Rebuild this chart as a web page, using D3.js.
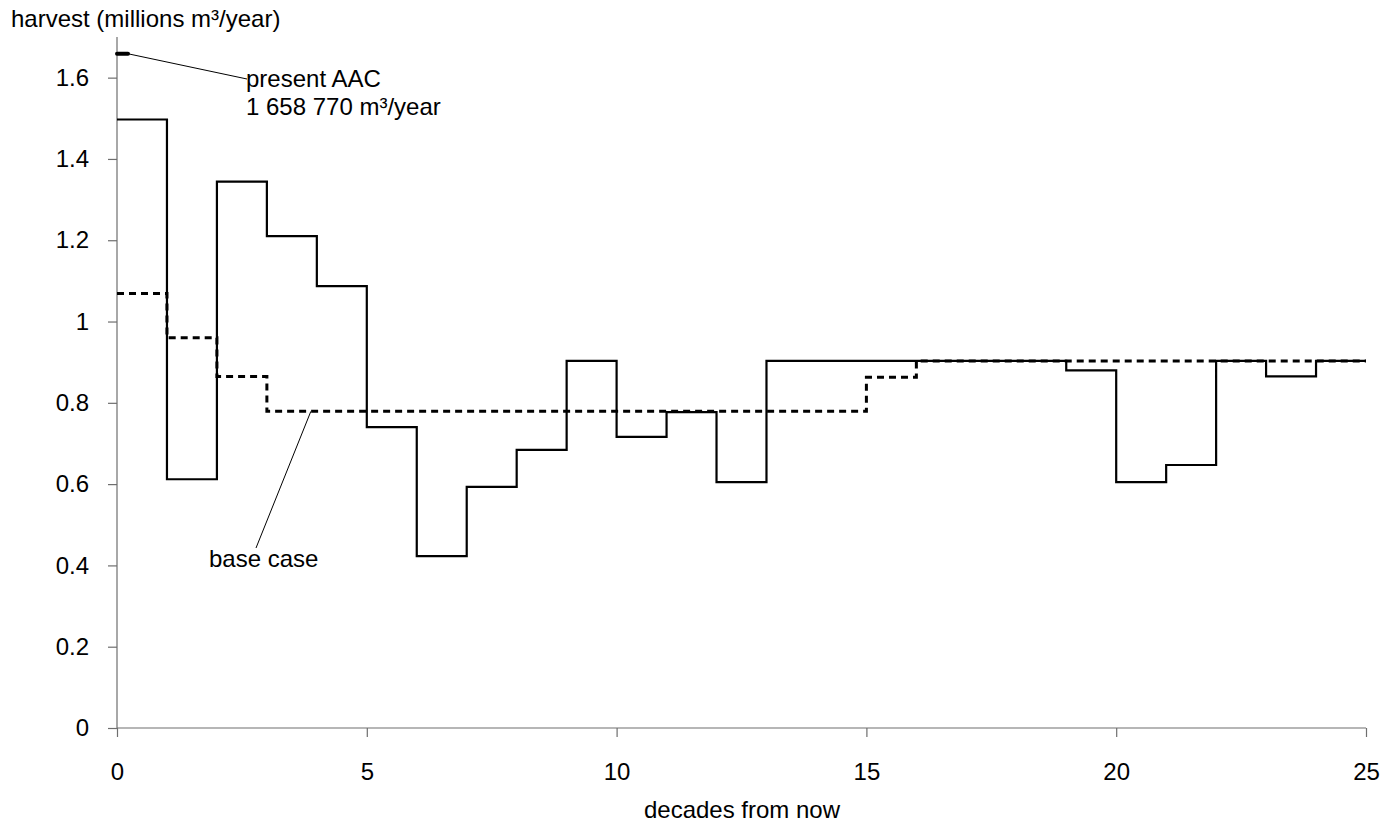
<!DOCTYPE html>
<html><head><meta charset="utf-8">
<script src="https://cdn.jsdelivr.net/npm/d3@7"></script>
<style>body{margin:0;background:#fff}svg{display:block}text{font-family:"Liberation Sans",Arial,sans-serif;fill:#000}</style>
</head><body><svg id="c" width="1395" height="824"></svg>
<script>
const decades = d3.range(0, 25);
const harvest = [1.497,0.612,1.344,1.21,1.087,0.74,0.423,0.593,0.684,0.903,0.716,0.777,0.605,0.903,0.903,0.903,0.903,0.903,0.903,0.88,0.605,0.647,0.903,0.865,0.903];
const baseCase = [1.069,0.96,0.865,0.779,0.779,0.779,0.779,0.779,0.779,0.779,0.779,0.779,0.779,0.779,0.779,0.863,0.903,0.903,0.903,0.903,0.903,0.903,0.903,0.903,0.903];
const xTicks = [0,5,10,15,20,25];
const yTicks = [0,0.2,0.4,0.6,0.8,1,1.2,1.4,1.6];
const presentAAC = 1.65877;

const FS = 24;
const svg = d3.select("#c");
const x = d3.scaleLinear().domain([0,25]).range([117,1366]);
const y = d3.scaleLinear().domain([0,1.7]).range([728,37]);
const axisColor = "#6e6e6e";

// axes
const xa = svg.append("g").attr("transform","translate(0,728)")
  .call(d3.axisBottom(x).tickValues(xTicks).tickSize(9).tickPadding(26).tickFormat(d3.format("d")));
const ya = svg.append("g").attr("transform","translate(117,0)")
  .call(d3.axisLeft(y).tickValues(yTicks).tickSize(9).tickPadding(19).tickFormat(d=>String(d)));
[xa,ya].forEach(a=>{
  a.selectAll("path.domain").attr("stroke",axisColor).attr("stroke-width",1.2);
  a.selectAll(".tick line").attr("stroke",axisColor).attr("stroke-width",1.2);
  a.selectAll("text").attr("font-size",FS).attr("font-family","Liberation Sans, Arial, sans-serif").attr("fill","#000");
});
ya.select("path.domain").attr("d",`M0,${y(1.7)}V${y(0)}`);
xa.select("path.domain").attr("d",`M${x(0)},0H${x(25)}`);

const step = (vals)=> decades.map((d,i)=>[d,vals[i]]).concat([[25,vals[vals.length-1]]]);
const line = d3.line().x(d=>x(d[0])).y(d=>y(d[1])).curve(d3.curveStepAfter);

svg.append("path").attr("d",line(step(baseCase))).attr("fill","none")
  .attr("stroke","#000").attr("stroke-width",3).attr("stroke-dasharray","7,5");
svg.append("path").attr("d",line(step(harvest))).attr("fill","none")
  .attr("stroke","#000").attr("stroke-width",2.2);

// present AAC mark
svg.append("line").attr("x1",x(0)).attr("x2",x(0.22)).attr("y1",y(presentAAC)).attr("y2",y(presentAAC))
  .attr("stroke","#000").attr("stroke-width",4).attr("stroke-linecap","round");
svg.append("line").attr("x1",x(0.22)).attr("y1",y(presentAAC)).attr("x2",247).attr("y2",79)
  .attr("stroke","#000").attr("stroke-width",1);
svg.append("text").attr("x",246).attr("y",87).attr("font-size",FS).text("present AAC");
svg.append("text").attr("x",246).attr("y",115).attr("font-size",FS).text("1 658 770 m³/year");

// base case label
svg.append("line").attr("x1",x(3.88)).attr("y1",y(0.779)).attr("x2",256).attr("y2",548)
  .attr("stroke","#000").attr("stroke-width",1);
svg.append("text").attr("x",209).attr("y",567).attr("font-size",FS).text("base case");

// axis titles
svg.append("text").attr("x",11).attr("y",27).attr("font-size",FS).text("harvest (millions m³/year)");
svg.append("text").attr("x",742).attr("y",818).attr("font-size",FS).attr("text-anchor","middle").text("decades from now");
</script></body></html>
